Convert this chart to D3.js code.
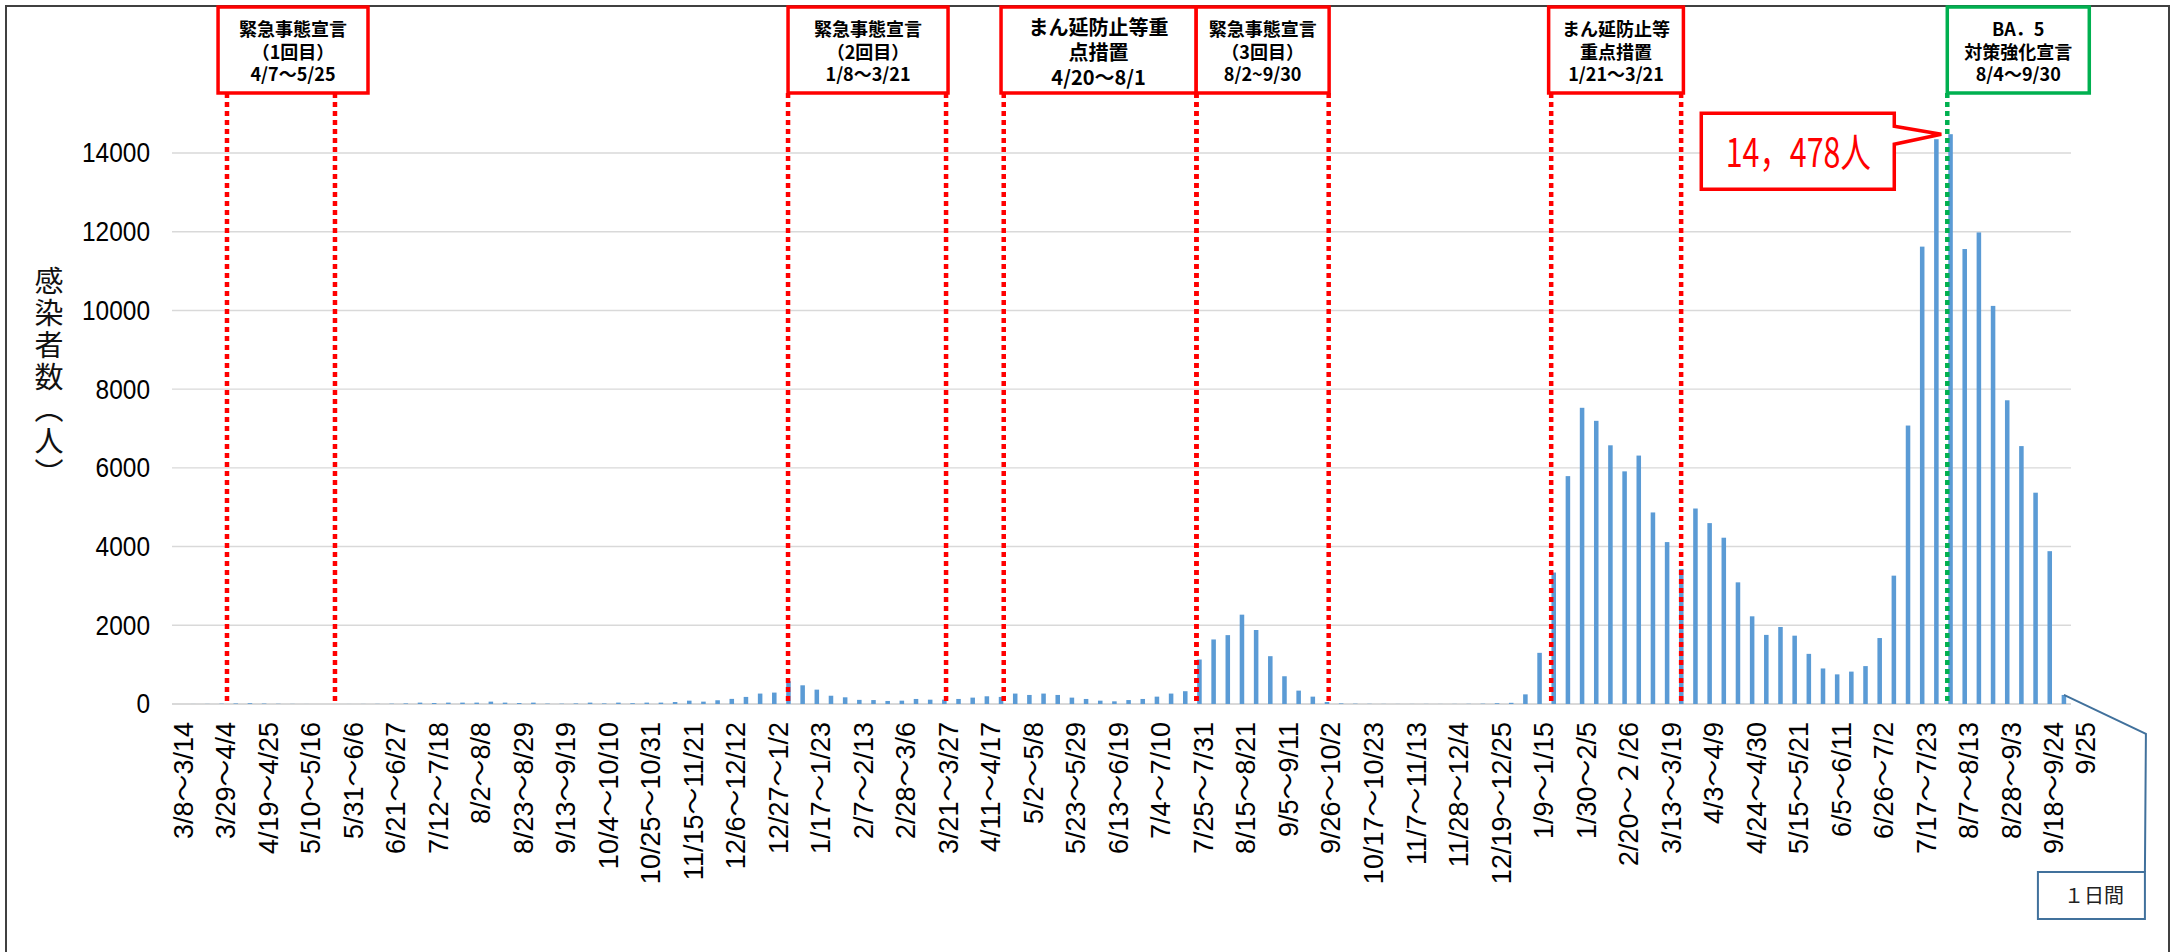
<!DOCTYPE html>
<html lang="ja">
	<head>
		<meta charset="UTF-8" />
		<meta name="viewport" content="width=device-width, initial-scale=1.0" />
		<script src="https://d3js.org/d3.v7.min.js"></script>
		<title>感染者数の推移</title>
		<style>
			body { margin: 0; background: #fff; }
			svg { display: block; }
		</style>
	</head>
	<body>
		<script>
			var w = 2179;
			var h = 952;

			// weekly number of infections, 3/8~3/14 (2020) ... 9/18~9/24 (2022), last one = 9/25 (1 day)
			var weeklyCases = [
				0, 1, 3, 8, 14, 20, 12, 6, 3, 1, 0, 0, 1, 2, 4, 8, 15,
				35, 25, 35, 35, 35, 60, 35, 25, 35, 10, 8, 15, 35, 15, 35, 20, 35, 35, 50,
				85, 60, 95, 130, 180, 265, 290, 580, 475, 365, 210, 170, 105, 100, 77, 85,
				128, 110, 110, 128, 162, 196, 180, 265, 230, 265, 230, 162, 128, 85, 68, 100,
				128, 187, 265, 325, 1130, 1640, 1750, 2270, 1880, 1215, 705, 340, 187, 50, 15,
				8, 5, 3, 2, 2, 3, 2, 3, 5, 8, 20, 30,
				245, 1300, 3340, 5790, 7526, 7195, 6573, 5911, 6312, 4867, 4114, 3432,
				4967, 4596, 4225, 3091, 2228, 1756, 1957, 1736, 1274, 903, 753, 823, 963,
				1676, 3261, 7075, 11621, 14350, 14478, 11560, 11982, 10115, 7717, 6553, 5369, 3883,
				230
			];

			var tickLabels = [
				"3/8～3/14", "3/29～4/4", "4/19～4/25", "5/10～5/16", "5/31～6/6", "6/21～6/27",
				"7/12～7/18", "8/2～8/8", "8/23～8/29", "9/13～9/19", "10/4～10/10", "10/25～10/31",
				"11/15～11/21", "12/6～12/12", "12/27～1/2", "1/17～1/23", "2/7～2/13", "2/28～3/6",
				"3/21～3/27", "4/11～4/17", "5/2～5/8", "5/23～5/29", "6/13～6/19", "7/4～7/10",
				"7/25～7/31", "8/15～8/21", "9/5～9/11", "9/26～10/2", "10/17～10/23", "11/7～11/13",
				"11/28～12/4", "12/19～12/25", "1/9～1/15", "1/30～2/5", "2/20～２/26", "3/13～3/19",
				"4/3～4/9", "4/24～4/30", "5/15～5/21", "6/5～6/11", "6/26～7/2", "7/17～7/23",
				"8/7～8/13", "8/28～9/3", "9/18～9/24", "9/25"
			];
			// category index of each tick label (every 3rd week + the single day)
			var tickIndex = [
				0, 3, 6, 9, 12, 15, 18, 21, 24, 27, 30, 33, 36, 39, 42, 45, 48, 51, 54, 57, 60, 63,
				66, 69, 72, 75, 78, 81, 84, 87, 90, 93, 96, 99, 102, 105, 108, 111, 114, 117, 120,
				123, 126, 129, 132, 133
			];

			var yTicks = [0, 2000, 4000, 6000, 8000, 10000, 12000, 14000];

			// declarations: box text, box extent and dotted lines (in week units on the x axis)
			var declTexts = [
				["緊急事態宣言", "（1回目）", "4/7～5/25"],
				["緊急事態宣言", "（2回目）", "1/8～3/21"],
				["まん延防止等重", "点措置", "4/20～8/1"],
				["緊急事態宣言", "（3回目）", "8/2~9/30"],
				["まん延防止等", "重点措置", "1/21～3/21"],
				["BA．5", "対策強化宣言", "8/4～9/30"]
			];
			var declBoxWeeks = [
				[3.25, 13.83], [43.47, 54.76], [58.5, 72.27], [72.27, 81.65], [97.14, 106.65], [125.27, 135.29]
			];
			var declLineWeeks = [
				[3.88, 11.5], [43.47, 54.62], [58.69, 72.29], [72.29, 81.62], [97.32, 106.49], [125.27]
			];

			var peakLabel = "14，478人";
			var lastDayLabel = "１日間";

			var left = 172;
			var right = 2071;
			var boxTop = 7;
			var boxBottom = 93;

			var svg = d3
				.select("body")
				.append("svg")
				.attr("width", w)
				.attr("height", h);

			var x = d3
				.scaleBand()
				.domain(d3.range(weeklyCases.length))
				.range([left, right])
				.paddingInner(0.68)
				.paddingOuter(0.34);

			var xWeek = d3
				.scaleLinear()
				.domain([0, weeklyCases.length])
				.range([left, right]);

			var y = d3.scaleLinear().domain([0, 14000]).range([704, 153]);

			// outer frame
			svg.append("rect")
				.attr("x", 6)
				.attr("y", 6)
				.attr("width", 2163)
				.attr("height", 1000)
				.attr("fill", "none")
				.attr("stroke", "#404040")
				.attr("stroke-width", 2);

			// gridlines
			svg.selectAll(".grid")
				.data(yTicks)
				.enter()
				.append("line")
				.attr("class", "grid")
				.attr("x1", left)
				.attr("x2", right)
				.attr("y1", function (d) {
					return y(d);
				})
				.attr("y2", function (d) {
					return y(d);
				})
				.attr("stroke", "#d9d9d9")
				.attr("stroke-width", function (d) {
					return d === 0 ? 2.2 : 1.4;
				});

			// y axis
			var yAxis = svg
				.append("g")
				.attr("transform", "translate(" + left + ",0)")
				.call(
					d3
						.axisLeft(y)
						.tickValues(yTicks)
						.tickSize(0)
						.tickPadding(22)
						.tickFormat(d3.format("d"))
				);
			yAxis.select(".domain").remove();
			yAxis.selectAll("text")
				.attr("font-family", "'Liberation Sans', Arial, sans-serif")
				.attr("font-size", "28px")
				.attr("textLength", function (d) {
					return String(d).length * 13.6;
				})
				.attr("lengthAdjust", "spacingAndGlyphs")
				.attr("fill", "#000");

			svg.append("text")
				.text("感染者数（人）")
				.attr("x", 49)
				.attr("y", 266)
				.attr("writing-mode", "vertical-rl")
				.attr("font-family", "'Noto Sans CJK JP', sans-serif")
				.attr("font-size", "29px")
				.attr("letter-spacing", "3px")
				.attr("fill", "#111");

			// x axis
			var xAxis = svg
				.append("g")
				.attr("transform", "translate(0," + y(0) + ")")
				.call(
					d3
						.axisBottom(x)
						.tickValues(tickIndex)
						.tickSize(0)
						.tickFormat(function (d, i) {
							return tickLabels[i];
						})
				);
			xAxis.select(".domain").remove();
			xAxis.selectAll("text")
				.attr("transform", "rotate(-90)")
				.attr("x", -18)
				.attr("y", 0)
				.attr("dy", function (d) {
					return d === 133 ? "1.15em" : "0.5em";
				})
				.style("text-anchor", "end")
				.attr("font-family", "'Liberation Sans', Arial, 'Noto Sans CJK JP', sans-serif")
				.attr("font-size", "27px")
				.attr("fill", "#000");

			// bars
			svg.selectAll(".bar")
				.data(weeklyCases)
				.enter()
				.append("rect")
				.attr("class", "bar")
				.attr("x", function (d, i) {
					return x(i);
				})
				.attr("y", function (d) {
					return y(d);
				})
				.attr("width", x.bandwidth())
				.attr("height", function (d) {
					return y(0) - y(d);
				})
				.attr("fill", "#5b9bd5");

			// dotted lines of the declarations
			declLineWeeks.forEach(function (ws, k) {
				var col = k === declLineWeeks.length - 1 ? "#00b050" : "#ff0000";
				svg.selectAll(".dl" + k)
					.data(ws)
					.enter()
					.append("line")
					.attr("x1", function (d) {
						return xWeek(d);
					})
					.attr("x2", function (d) {
						return xWeek(d);
					})
					.attr("y1", boxBottom)
					.attr("y2", y(0))
					.attr("stroke", col)
					.attr("stroke-width", 4.5)
					.attr("stroke-dasharray", "5 4");
			});

			// declaration boxes
			var boxes = svg
				.selectAll(".decl")
				.data(declTexts)
				.enter()
				.append("g")
				.attr("class", "decl");

			boxes.append("rect")
				.attr("x", function (d, i) {
					return xWeek(declBoxWeeks[i][0]);
				})
				.attr("y", boxTop)
				.attr("width", function (d, i) {
					return xWeek(declBoxWeeks[i][1]) - xWeek(declBoxWeeks[i][0]);
				})
				.attr("height", boxBottom - boxTop)
				.attr("fill", "#fff")
				.attr("stroke", function (d, i) {
					return i === declTexts.length - 1 ? "#00b050" : "#ff0000";
				})
				.attr("stroke-width", 3.5);

			boxes.each(function (lines, i) {
				var cx = (xWeek(declBoxWeeks[i][0]) + xWeek(declBoxWeeks[i][1])) / 2;
				var big = lines[0].length > 6;
				var fs = big ? 20 : 18;
				var step = big ? 25 : 22.5;
				var top = big ? 28 : 30;
				d3.select(this)
					.selectAll("text")
					.data(lines)
					.enter()
					.append("text")
					.text(function (d) {
						return d;
					})
					.attr("x", cx)
					.attr("y", function (d, j) {
						return top + j * step;
					})
					.attr("dy", "0.36em")
					.attr("text-anchor", "middle")
					.attr("font-family", "'Noto Sans CJK JP', sans-serif")
					.attr("font-weight", "bold")
					.attr("font-size", fs + "px")
					.attr("fill", "#000");
			});

			// callout for the peak
			var peak = d3.maxIndex(weeklyCases);
			var tipX = x(peak) - 7;
			var tipY = y(weeklyCases[peak]);
			var cR = tipX - 47;
			var cL = cR - 193;
			var cT = tipY - 21;
			var cB = tipY + 55;
			svg.append("path")
				.attr(
					"d",
					"M" + cL + "," + cT + "H" + cR + "V" + (tipY - 8) +
						"L" + tipX + "," + tipY + "L" + cR + "," + (tipY + 10) +
						"V" + cB + "H" + cL + "Z"
				)
				.attr("fill", "#fff")
				.attr("stroke", "#ff0000")
				.attr("stroke-width", 3.5);
			svg.append("text")
				.text(peakLabel)
				.attr("x", (cL + cR) / 2 - 72)
				.attr("y", tipY + 33)
				.attr("textLength", 145)
				.attr("lengthAdjust", "spacingAndGlyphs")
				.attr("font-family", "'Noto Sans CJK JP', sans-serif")
				.attr("font-size", "40px")
				.attr("fill", "#ff0000");

			// the single day at the end
			var last = weeklyCases.length - 1;
			var lx = x(last) + x.bandwidth() / 2;
			var ly = y(weeklyCases[last]);
			svg.append("path")
				.attr("d", "M" + lx + "," + ly + "L" + (lx + 82) + "," + (ly + 39) + "L" + (lx + 81) + ",872")
				.attr("fill", "none")
				.attr("stroke", "#41719c")
				.attr("stroke-width", 2);
			svg.append("rect")
				.attr("x", lx - 26)
				.attr("y", 872)
				.attr("width", 107)
				.attr("height", 47)
				.attr("fill", "#fff")
				.attr("stroke", "#41719c")
				.attr("stroke-width", 2);
			svg.append("text")
				.text(lastDayLabel)
				.attr("x", lx + 30)
				.attr("y", 896)
				.attr("dy", "0.36em")
				.attr("text-anchor", "middle")
				.attr("font-family", "'Noto Sans CJK JP', sans-serif")
				.attr("font-size", "20px")
				.attr("fill", "#222");
		</script>
	</body>
</html>
